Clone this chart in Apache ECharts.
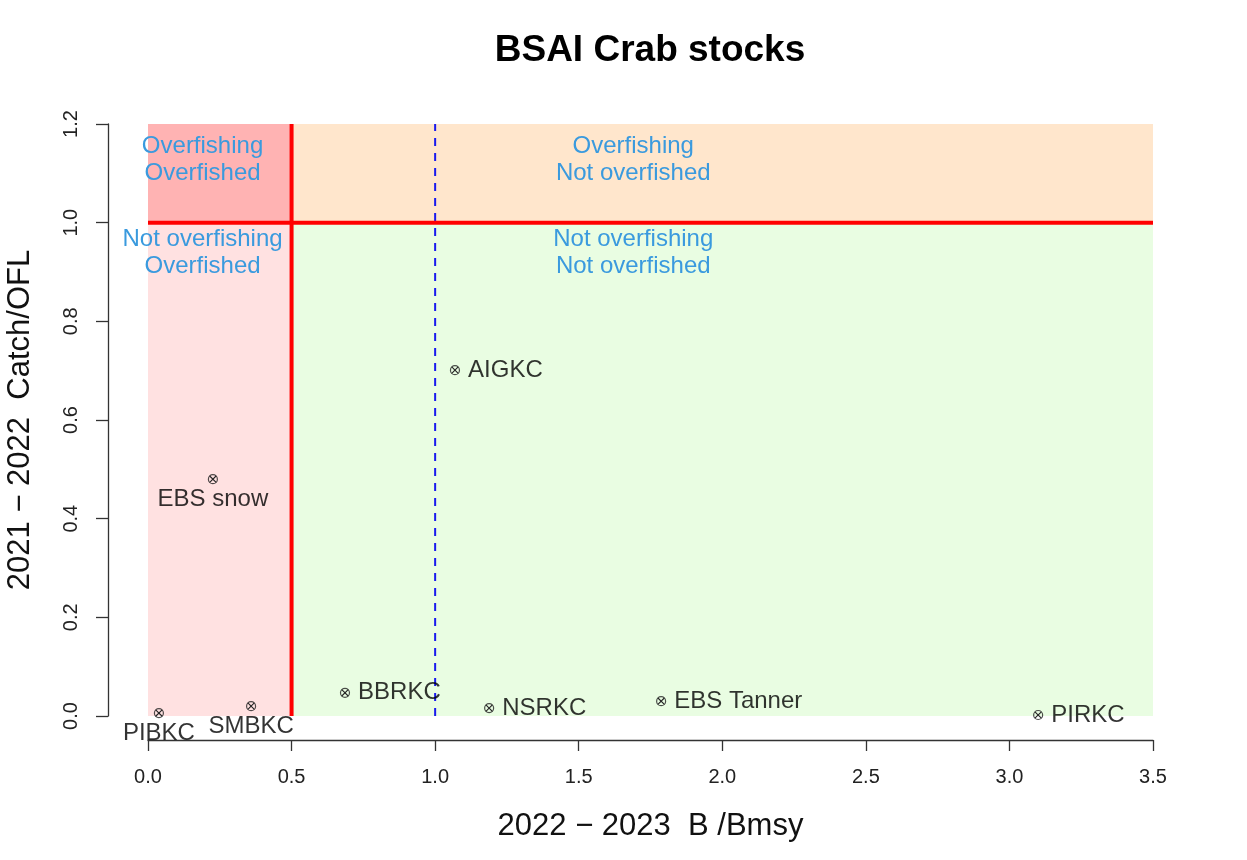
<!DOCTYPE html>
<html><head><meta charset="utf-8">
<script src="https://cdn.jsdelivr.net/npm/echarts@6/dist/echarts.min.js"></script>
<style>html,body{margin:0;padding:0;background:#fff}#c{width:1247px;height:860px}</style>
</head><body><div id="c"></div>
<script>
// ---- data ----
const stocks   = ['PIBKC', 'SMBKC', 'EBS snow', 'BBRKC', 'AIGKC', 'NSRKC', 'EBS Tanner', 'PIRKC'];
const bBmsy    = [0.038, 0.359, 0.226, 0.686, 1.069, 1.188, 1.787, 3.100];
const catchOfl = [0.006, 0.020, 0.480, 0.047, 0.701, 0.016, 0.030, 0.002];
const labelSide = ['bottom', 'bottom', 'bottom', 'right', 'right', 'right', 'right', 'right'];
const xTickLabels = ['0.0', '0.5', '1.0', '1.5', '2.0', '2.5', '3.0', '3.5'];
const yTickLabels = ['0.0', '0.2', '0.4', '0.6', '0.8', '1.0', '1.2'];
const bLimit = 0.5;      // overfished threshold B/Bmsy
const fLimit = 1.0;      // overfishing threshold Catch/OFL
const bTarget = 1.0;     // Bmsy
const xMax = 3.5, yMax = 1.2;
const quadrantLabels = ['Overfishing\nOverfished', 'Overfishing\nNot overfished',
                        'Not overfishing\nOverfished', 'Not overfishing\nNot overfished'];
const quadrantLabelX = [0.19, 1.69, 0.19, 1.69];
const quadrantLabelY = [1.127, 1.127, 0.939, 0.939];

// ---- chart ----
const FONT = '"Liberation Sans", Arial, Helvetica, sans-serif';
const chart = echarts.init(document.getElementById('c'), null, {renderer: 'canvas'});

const regions = [
  [0, bLimit, fLimit, yMax, '#ffb3b3'],
  [bLimit, xMax, fLimit, yMax, '#ffe6cc'],
  [0, bLimit, 0, fLimit, '#ffe1e1'],
  [bLimit, xMax, 0, fLimit, '#e9fde2']
];

const points = stocks.map((s, i) => ({
  name: s,
  value: [bBmsy[i], catchOfl[i]],
  label: labelSide[i] === 'bottom'
    ? {position: 'bottom', distance: 3}
    : {position: 'right', distance: 8}
}));

const option = {
  backgroundColor: '#ffffff',
  animation: false,
  graphic: [{
    type: 'text', x: 650, y: 51, z: 100,
    style: {text: 'BSAI Crab stocks', font: 'bold 37px ' + FONT, fill: '#000',
            align: 'center', verticalAlign: 'middle'}
  }],
  grid: {left: 148, right: 94, top: 124, bottom: 144, containLabel: false, outerBoundsMode: 'none'},
  xAxis: {
    type: 'value', min: 0, max: xMax, interval: 0.5, offset: 24,
    name: '2022 \u2212 2023  B /Bmsy', nameLocation: 'middle', nameGap: 71,
    nameTextStyle: {fontFamily: FONT, fontSize: 31, color: '#111'},
    axisLine: {show: true, onZero: false, lineStyle: {color: '#333', width: 1.3}},
    axisTick: {show: true, length: 11, lineStyle: {color: '#333', width: 1.3}},
    axisLabel: {fontFamily: FONT, fontSize: 20, color: '#222', margin: 27,
      formatter: (v) => xTickLabels[Math.round(v / 0.5)] ?? ''},
    splitLine: {show: false}
  },
  yAxis: {
    type: 'value', min: 0, max: yMax, interval: 0.2, offset: 40,
    name: '2021 \u2212 2022  Catch/OFL', nameLocation: 'middle', nameGap: 72, nameRotate: 90,
    nameTextStyle: {fontFamily: FONT, fontSize: 31, color: '#111'},
    axisLine: {show: true, onZero: false, lineStyle: {color: '#333', width: 1.3}},
    axisTick: {show: true, length: 12, lineStyle: {color: '#333', width: 1.3}},
    axisLabel: {fontFamily: FONT, fontSize: 20, color: '#222', margin: 27, rotate: 90,
      formatter: (v) => yTickLabels[Math.round(v / 0.2)] ?? ''},
    splitLine: {show: false}
  },
  series: [
    {
      type: 'custom', z: 1, silent: true,
      data: regions.map(r => [r[0], r[1], r[2], r[3]]),
      renderItem: (params, api) => {
        const r = regions[params.dataIndex];
        const p0 = api.coord([api.value(0), api.value(3)]);
        const p1 = api.coord([api.value(1), api.value(2)]);
        return {type: 'rect', shape: {x: p0[0], y: p0[1], width: p1[0] - p0[0], height: p1[1] - p0[1]},
                style: {fill: r[4]}};
      }
    },
    {
      type: 'line', z: 3, silent: true, symbol: 'none',
      data: [[bTarget, 0], [bTarget, yMax]],
      lineStyle: {color: '#1a1aee', width: 2, type: [8, 7]}
    },
    {
      type: 'line', z: 4, silent: true, symbol: 'none',
      data: [[bLimit, 0], [bLimit, yMax]],
      lineStyle: {color: '#ff0000', width: 4}
    },
    {
      type: 'line', z: 4, silent: true, symbol: 'none',
      data: [[0, fLimit], [xMax, fLimit]],
      lineStyle: {color: '#ff0000', width: 4}
    },
    {
      type: 'custom', z: 5, silent: true,
      data: quadrantLabels.map((t, i) => [quadrantLabelX[i], quadrantLabelY[i]]),
      renderItem: (params, api) => {
        const c = api.coord([api.value(0), api.value(1)]);
        return {type: 'text', x: c[0], y: c[1],
          style: {text: quadrantLabels[params.dataIndex], font: '24px ' + FONT, lineHeight: 27,
                  fill: '#3a9ade', align: 'center', verticalAlign: 'middle'}};
      }
    },
    {
      type: 'scatter', z: 6, symbol: 'circle', symbolSize: 9,
      itemStyle: {color: 'rgba(0,0,0,0)', borderColor: '#222', borderWidth: 1.2},
      data: points,
      label: {show: true, formatter: (p) => p.name, fontFamily: FONT, fontSize: 24, color: '#000'}
    },
    {
      type: 'custom', z: 7, silent: true,
      data: stocks.map((s, i) => [bBmsy[i], catchOfl[i]]),
      renderItem: (params, api) => {
        const c = api.coord([api.value(0), api.value(1)]);
        const d = 3.2;
        return {type: 'group', children: [
          {type: 'line', shape: {x1: c[0] - d, y1: c[1] - d, x2: c[0] + d, y2: c[1] + d}, style: {stroke: '#222', lineWidth: 1.1}},
          {type: 'line', shape: {x1: c[0] - d, y1: c[1] + d, x2: c[0] + d, y2: c[1] - d}, style: {stroke: '#222', lineWidth: 1.1}}
        ]};
      }
    }
  ]
};
chart.setOption(option);
</script>
</body></html>
